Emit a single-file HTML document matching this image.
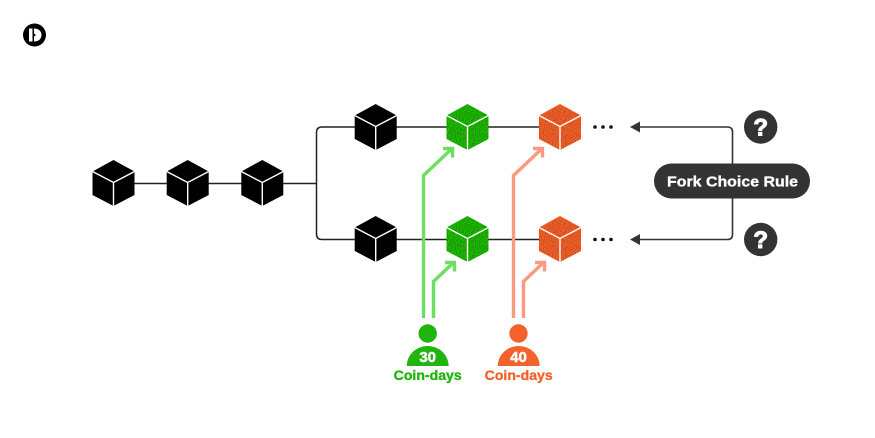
<!DOCTYPE html>
<html><head><meta charset="utf-8"><style>
html,body{margin:0;padding:0;background:#fff;width:875px;height:438px;overflow:hidden}
svg{display:block}
text{font-family:"Liberation Sans",sans-serif;font-weight:700}
</style></head><body>
<svg width="875" height="438" viewBox="0 0 875 438" xmlns="http://www.w3.org/2000/svg">
<defs>
<filter id="n" x="0" y="0" width="100%" height="100%">
<feTurbulence type="fractalNoise" baseFrequency="0.9" numOctaves="2" seed="4" result="t"/>
<feColorMatrix in="t" type="matrix" values="0 0 0 0 0  0 0 0 0 0  0 0 0 0 0  0 0 0 1.6 -0.62" result="d"/>
<feComposite in="d" in2="SourceAlpha" operator="in" result="m"/>
<feMerge><feMergeNode in="SourceGraphic"/><feMergeNode in="m"/></feMerge>
</filter>
<g id="c">
<path d="M0,-23 L21,-11.5 L21,12 L0,23 L-21,12 L-21,-11.5 Z" fill="currentColor"/>
<path d="M-21,-11.5 L0,-0.5 L21,-11.5 M0,-0.5 L0,23" fill="none" stroke="#fff" stroke-width="1.4"/>
</g>
<g id="cn">
<path d="M0,-23 L21,-11.5 L21,12 L0,23 L-21,12 L-21,-11.5 Z" fill="currentColor" filter="url(#n)"/>
<path d="M-21,-11.5 L0,-0.5 L21,-11.5 M0,-0.5 L0,23" fill="none" stroke="#fff" stroke-width="1.4"/>
</g>
</defs>
<rect width="875" height="438" fill="#fff"/>
<!-- logo -->
<circle cx="34.5" cy="35" r="11.5" fill="#000"/>
<path d="M29,28.5 H32.5 V41.5 H29 Z" fill="#fff"/>
<path d="M34,28.5 C39,28.5 41.5,31.5 41.5,35 C41.5,38.5 39,41.5 34,41.5 V36.5 L36,35 L34,33.5 Z" fill="#fff"/>
<!-- lines -->
<g fill="none" stroke="#222" stroke-width="1.5">
<path d="M113,183.5 H316.5"/>
<path d="M376,127 H322 Q316.5,127 316.5,132.5 V234 Q316.5,239.5 322,239.5 H376"/>
<path d="M376,127 H560"/>
<path d="M376,239.5 H560"/>
</g>
<g fill="none" stroke="#333" stroke-width="1.6">
<path d="M638,127 H727.5 Q732.5,127 732.5,132 V234.5 Q732.5,239.5 727.5,239.5 H638"/>
</g>
<path d="M630,127 L640,121.5 V132.5 Z" fill="#333"/>
<path d="M630,239.5 L640,234 V245 Z" fill="#333"/>
<!-- cubes -->
<g color="#000">
<use href="#c" x="113.5" y="183"/>
<use href="#c" x="187.7" y="183"/>
<use href="#c" x="262.3" y="183"/>
<use href="#c" x="375.7" y="127"/>
<use href="#c" x="375.7" y="239"/>
</g>
<g color="#22bd0f">
<use href="#cn" x="467.5" y="127"/>
<use href="#cn" x="467.5" y="239"/>
</g>
<g color="#fb642c">
<use href="#cn" x="560" y="127"/>
<use href="#cn" x="560" y="239"/>
</g>
<!-- arrows -->
<g fill="none" stroke="#6fdc62" stroke-width="3.4">
<path d="M423.5,318 V175.5 L451,149.5"/>
<path d="M443,148.5 H452.5 V157.5"/>
<path d="M433.5,318 V281.5 L453,263"/>
<path d="M445,262.5 H454.5 V271.5"/>
</g>
<g fill="none" stroke="#fb9a80" stroke-width="3.4">
<path d="M513.5,318 V175.5 L541,149.5"/>
<path d="M533,148.5 H542.5 V157.5"/>
<path d="M523.5,318 V281.5 L543,263"/>
<path d="M535,262.5 H544.5 V271.5"/>
</g>
<!-- dots -->
<g fill="#111">
<circle cx="595" cy="127" r="1.8"/><circle cx="603" cy="127" r="1.8"/><circle cx="611" cy="127" r="1.8"/>
<circle cx="595" cy="239.5" r="1.8"/><circle cx="603" cy="239.5" r="1.8"/><circle cx="611" cy="239.5" r="1.8"/>
</g>
<!-- people -->
<circle cx="427.7" cy="333.5" r="9.2" fill="#1fb50e"/>
<path d="M406.7,366 A21,20 0 0 1 448.7,366 Z" fill="#1fb50e"/>
<text x="427.7" y="362" font-size="15" fill="#fff" stroke="#fff" stroke-width=".5" text-anchor="middle">30</text>
<text x="427.7" y="380" font-size="13.5" fill="#1fb50e" stroke="#1fb50e" stroke-width=".35" text-anchor="middle" textLength="68" lengthAdjust="spacingAndGlyphs">Coin-days</text>
<circle cx="518.5" cy="333.5" r="9.2" fill="#f4622c"/>
<path d="M497.7,366 A21,20 0 0 1 539.7,366 Z" fill="#f4622c"/>
<text x="518.5" y="362" font-size="15" fill="#fff" stroke="#fff" stroke-width=".5" text-anchor="middle">40</text>
<text x="518.7" y="380" font-size="13.5" fill="#f4622c" stroke="#f4622c" stroke-width=".35" text-anchor="middle" textLength="68" lengthAdjust="spacingAndGlyphs">Coin-days</text>
<!-- pill -->
<rect x="654" y="163.5" width="156" height="35" rx="17.5" fill="#333"/>
<text x="732.5" y="186.5" font-size="15" fill="#fff" stroke="#fff" stroke-width=".35" text-anchor="middle" textLength="131" lengthAdjust="spacingAndGlyphs">Fork Choice Rule</text>
<!-- question marks -->
<circle cx="760.7" cy="127" r="16.7" fill="#333"/>
<text x="760.7" y="135.5" font-size="24" fill="#fff" stroke="#fff" stroke-width="1" text-anchor="middle">?</text>
<circle cx="760.7" cy="239.5" r="16.7" fill="#333"/>
<text x="760.7" y="248" font-size="24" fill="#fff" stroke="#fff" stroke-width="1" text-anchor="middle">?</text>
</svg>
</body></html>
